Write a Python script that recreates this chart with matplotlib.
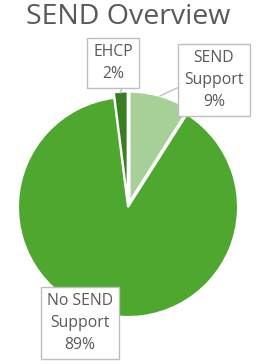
import matplotlib
matplotlib.use("Agg")
import matplotlib.pyplot as plt

# data
categories = ["SEND\nSupport", "No SEND\nSupport", "EHCP"]
shares = [9, 89, 2]
colors = ["#A7CF98", "#4EA72E", "#3B7D23"]
explode = [0.05, 0.0, 0.05]
title = "SEND Overview"

plt.rcParams['font.family'] = ['Open Sans', 'DejaVu Sans']
text_col = "#595959"

fig = plt.figure(figsize=(2.56, 3.64), dpi=100)
ax = fig.add_axes([18 / 256, 47 / 364, 220 / 256, 220 / 364])

wedges, _ = ax.pie(shares, colors=colors, explode=explode, startangle=90,
                   counterclock=False, radius=1.0,
                   wedgeprops=dict(edgecolor="white", linewidth=1.5))
for w in wedges:
    w.set_clip_on(False)
ax.set_xlim(-1, 1)
ax.set_ylim(-1, 1)
ax.set_aspect("equal")
ax.axis("off")

fig.text(0.5, 0.952, title, ha="center", va="center", fontsize=20.5, color=text_col)

# label boxes (figure fraction positions)
label_pos = [(214 / 256, 1 - 80 / 364), (80 / 256, 1 - 323 / 364), (113 / 256, 1 - 63 / 364)]
box = dict(boxstyle="square,pad=0.4", facecolor="white", edgecolor="#BFBFBF", linewidth=1)
for cat, val, (x, y) in zip(categories, shares, label_pos):
    fig.text(x, y, f"{cat}\n{val}%", ha="center", va="center", fontsize=11.3,
             color=text_col, linespacing=1.5, bbox=box)

# leader lines
fig.add_artist(plt.Line2D([160 / 256, 177 / 256], [1 - 96 / 364, 1 - 88 / 364],
                          transform=fig.transFigure, color="#BFBFBF", linewidth=1))
fig.add_artist(plt.Line2D([120 / 256, 122 / 256], [1 - 93 / 364, 1 - 88 / 364],
                          transform=fig.transFigure, color="#BFBFBF", linewidth=1))

fig.savefig("out.png", dpi=100, facecolor="white")
